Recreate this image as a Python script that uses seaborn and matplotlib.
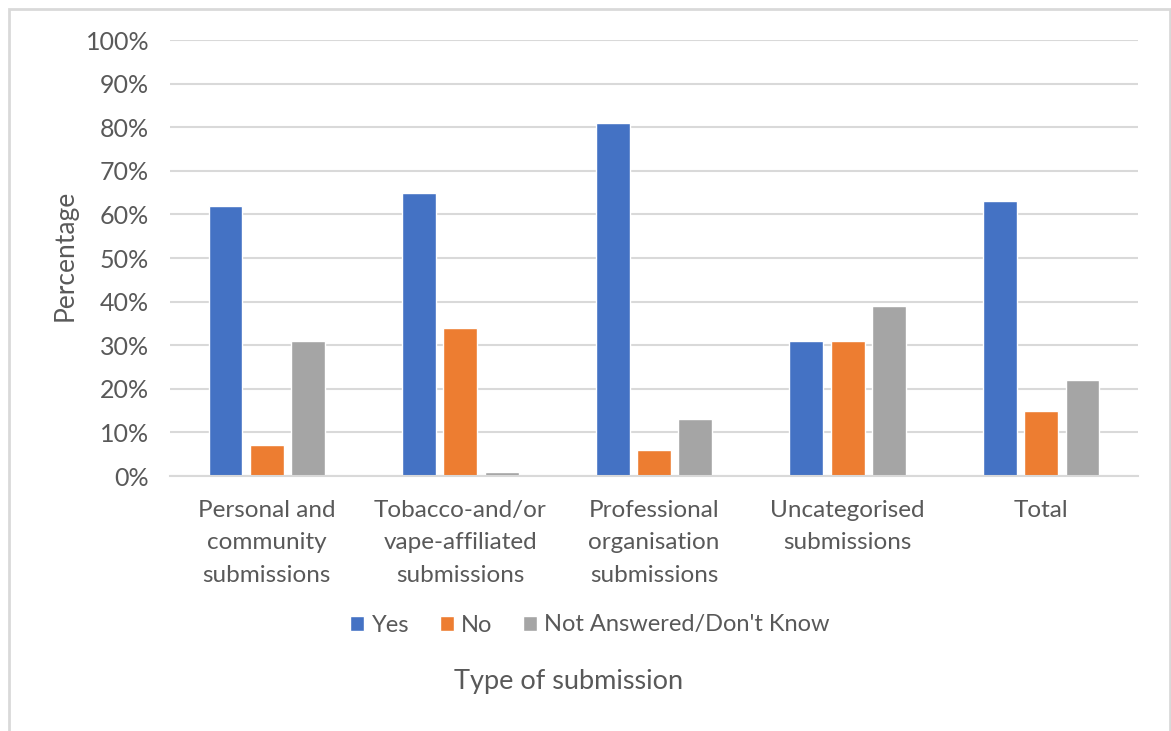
import matplotlib
matplotlib.use("Agg")
import matplotlib.pyplot as plt
import seaborn as sns
import pandas as pd
from matplotlib.patches import Rectangle
from matplotlib.ticker import FuncFormatter

categories = ["Personal and\ncommunity\nsubmissions",
              "Tobacco-and/or\nvape-affiliated\nsubmissions",
              "Professional\norganisation\nsubmissions",
              "Uncategorised\nsubmissions",
              "Total"]
series = ["Yes", "No", "Not Answered/Don't Know"]
yes_vals = [62, 65, 81, 31, 63]
no_vals = [7, 34, 6, 31, 15]
na_vals = [31, 1, 13, 39, 22]
colors = ["#4472C4", "#ED7D31", "#A5A5A5"]

rows = []
for s, vals in zip(series, [yes_vals, no_vals, na_vals]):
    for c, v in zip(categories, vals):
        rows.append({"Category": c, "Series": s, "Value": v})
df = pd.DataFrame(rows)

sns.set_theme(style="white")
plt.rcParams['font.family'] = ['Lato', 'DejaVu Sans']
txt = "#595959"

fig = plt.figure(figsize=(11.71, 7.31), dpi=100)
ax = fig.add_axes([170/1171, 1-476/731, (1138-170)/1171, (476-40)/731])

sns.barplot(data=df, x="Category", y="Value", hue="Series", palette=colors,
            order=categories, hue_order=series, width=0.64, gap=0.18,
            ax=ax, legend=True, saturation=1)

ax.set_ylim(0, 100)
ax.set_yticks(range(0, 101, 10))
ax.yaxis.set_major_formatter(FuncFormatter(lambda v, p: f"{int(v)}%"))
ax.grid(axis="y", color="#D9D9D9", linewidth=1.5)
ax.set_axisbelow(True)
for side in ["top", "right", "left"]:
    ax.spines[side].set_visible(False)
ax.spines["bottom"].set_color("#D9D9D9")
ax.spines["bottom"].set_linewidth(1.5)
ax.tick_params(axis="both", length=0, colors=txt)
ax.tick_params(axis="y", pad=15, labelsize=18)
ax.tick_params(axis="x", pad=17, labelsize=17.5)
for lab in ax.get_xticklabels():
    lab.set_linespacing(1.68)
ax.set_xlabel("")
ax.set_ylabel("")
fig.text(65/1171, 1-255/731, "Percentage", rotation=90, ha="center", va="center",
         color=txt, fontsize=19)

leg = ax.legend(loc="center", bbox_to_anchor=(590/1171, 1-625/731), bbox_transform=fig.transFigure,
                ncol=3, frameon=False, fontsize=17, handlelength=0.6, handleheight=0.6,
                handletextpad=0.3, columnspacing=1.3)
for t in leg.get_texts():
    t.set_color(txt)

fig.text(569/1171, 1-681/731, "Type of submission", ha="center", va="center",
         color=txt, fontsize=19.5)

fig.patches.append(Rectangle((9/1171, -0.05), (1170-9)/1171, 1.05-9/731,
                             transform=fig.transFigure, fill=False,
                             edgecolor="#D9D9D9", linewidth=2))

fig.savefig("out.png", dpi=100, facecolor="white")
